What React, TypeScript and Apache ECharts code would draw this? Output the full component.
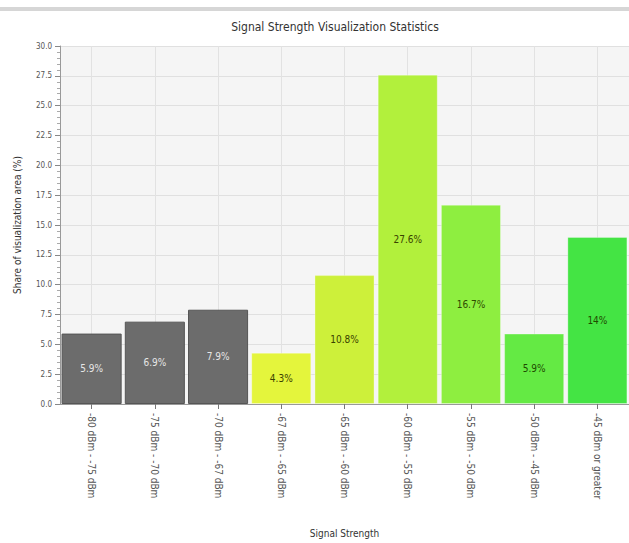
import React, { useEffect, useRef } from "react";
import * as echarts from "echarts";

const categories = [
  "-80 dBm - -75 dBm",
  "-75 dBm - -70 dBm",
  "-70 dBm - -67 dBm",
  "-67 dBm - -65 dBm",
  "-65 dBm - -60 dBm",
  "-60 dBm - -55 dBm",
  "-55 dBm - -50 dBm",
  "-50 dBm - -45 dBm",
  "-45 dBm or greater",
];
const values = [5.9, 6.9, 7.9, 4.3, 10.8, 27.6, 16.7, 5.9, 14];
const barColors = [
  "#6c6c6c",
  "#6c6c6c",
  "#6c6c6c",
  "#e4f53c",
  "#cdf03a",
  "#b2f03c",
  "#8eee40",
  "#64ea44",
  "#44e444",
];
const labelColors = [
  "#e6e6e6",
  "#e6e6e6",
  "#e6e6e6",
  "#3a4200",
  "#3a4200",
  "#3a4200",
  "#2f4a00",
  "#1f4a00",
  "#1f4a00",
];

const FONT = "'Liberation Sans Narrow', 'DejaVu Sans Condensed', 'Roboto', sans-serif";

export default function App() {
  const ref = useRef<HTMLDivElement>(null);
  useEffect(() => {
    document.body.style.margin = "0";
    const chart = echarts.init(ref.current!, null, { renderer: "svg" });
    chart.setOption({
      animation: false,
      backgroundColor: "#ffffff",
      textStyle: { fontFamily: FONT },
      title: {
        text: "Signal Strength Visualization Statistics",
        left: 330,
        textAlign: "center",
        top: 16,
        textStyle: { fontSize: 12, fontWeight: "normal", color: "#333", fontFamily: FONT },
      },
      graphic: [
        { type: "rect", shape: { x: 0, y: 7, width: 629, height: 4 }, style: { fill: "#d6d6d6" } },
      ],
      grid: {
        left: 60,
        right: -2,
        top: 46,
        bottom: 135,
        show: true,
        backgroundColor: "#f5f5f5",
        borderWidth: 0,
      },
      xAxis: {
        type: "category",
        data: categories,
        name: "Signal Strength",
        nameLocation: "middle",
        nameGap: 124,
        nameTextStyle: { fontSize: 10, color: "#333", fontFamily: FONT },
        axisLine: { show: true, lineStyle: { color: "#999" } },
        axisTick: { show: true, alignWithLabel: true, length: 5, lineStyle: { color: "#777" } },
        axisLabel: { rotate: -90, fontSize: 10, color: "#555", margin: 9, fontFamily: FONT },
        splitLine: { show: true, alignWithLabel: true, lineStyle: { color: "#e2e2e2" } },
      },
      yAxis: {
        type: "value",
        min: 0,
        max: 30,
        interval: 2.5,
        name: "Share of visualization area (%)",
        nameLocation: "middle",
        nameGap: 38,
        nameTextStyle: { fontSize: 10, color: "#333", fontFamily: FONT },
        axisLine: { show: true, lineStyle: { color: "#999" } },
        axisTick: { show: true, length: 5, lineStyle: { color: "#888" } },
        minorTick: { show: true, splitNumber: 5, length: 3, lineStyle: { color: "#aaa" } },
        axisLabel: {
          fontSize: 8,
          color: "#555",
          margin: 8,
          fontFamily: FONT,
          formatter: (v: number) => v.toFixed(1),
        },
        splitLine: { show: true, lineStyle: { color: "#e0e0e0" } },
      },
      series: [
        {
          type: "bar",
          barCategoryGap: "5%",
          data: values.map((v, i) => ({
            value: v,
            itemStyle: {
              color: barColors[i],
              borderColor: i < 3 ? "#555" : "rgba(255,255,255,0.3)",
              borderWidth: 1,
            },
            label: { color: labelColors[i] },
          })),
          label: {
            show: true,
            position: "inside",
            fontSize: 10,
            fontFamily: FONT,
            formatter: (p: any) => p.value + "%",
          },
        },
      ],
    });
    return () => chart.dispose();
  }, []);
  return <div ref={ref} style={{ width: 629, height: 543 }} />;
}
